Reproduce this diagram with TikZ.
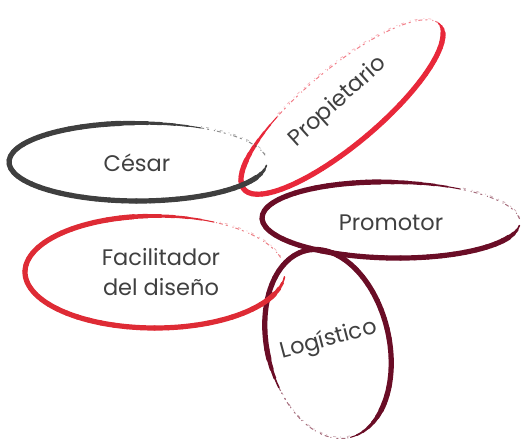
\documentclass[tikz,border=0pt]{standalone}
\usepackage{fontspec}
\setmainfont{Poppins}
\usetikzlibrary{calc}
\definecolor{cgray}{HTML}{3F3F3F}
\definecolor{cred}{HTML}{E8283A}
\definecolor{cred2}{HTML}{DE2B35}
\definecolor{cmaroon}{HTML}{6A0D26}
\definecolor{ctext}{HTML}{404040}
% #1 centre, #2 rotation, #3 rx, #4 ry, #5 t0, #6 t1, #7 colour, #8 fade t0, #9 fade t1
\newcommand\brushell[9]{%
  \begin{scope}[shift={(#1)},rotate=#2]
    \foreach \i in {0,...,47}{%
      \pgfmathsetmacro\ta{#5+(#6-#5)*\i/48}%
      \pgfmathsetmacro\tb{#5+(#6-#5)*(\i+1)/48}%
      \pgfmathsetmacro\lw{4.8*min(1,min((\i+1)/7,(48-\i)/4))+0.4}%
      \draw[#7, line width=\lw pt, line cap=round]
        (\ta:#3pt and #4pt) arc (\ta:\tb:#3pt and #4pt);
    }
    \draw[#7, opacity=.6, line width=1pt,
          dash pattern=on 4pt off 2pt on 1pt off 5pt on 2pt off 3pt]
      (#8:#3pt and #4pt) arc (#8:#9:#3pt and #4pt);
    \draw[#7, opacity=.35, line width=.7pt,
          dash pattern=on 1pt off 6pt on 3pt off 4pt]
      ($(#8:#3pt and #4pt)+(0,1.5pt)$) arc (#8:#9:#3pt and #4pt);
  \end{scope}}
\tikzset{
  label/.style={text=ctext, font=\fontsize{22.5}{30}\selectfont, align=center, inner sep=0pt}
}
\begin{document}
\begin{tikzpicture}[x=1pt,y=1pt]
\useasboundingbox (0,0) rectangle (522,439);
% Logistico
\brushell{328,95}{13}{61}{96}{-89}{199}{cmaroon}{199}{271}
% Promotor
\brushell{391,219}{-1}{129}{38}{58}{355}{cmaroon}{5}{58}
% Facilitador
\brushell{155,167}{0}{130}{56}{63}{355}{cred2}{15}{63}
% Propietario
\brushell{342,332}{40}{128}{38}{116}{363}{cred}{3}{116}
% Cesar
\brushell{138,277}{0}{129}{39}{61}{355}{cgray}{10}{61}
\node[label] (cesar) at (137,276) {César};
\node[label, rotate=42] (prop) at (338,337) {Propietario};
\node[label] (prom) at (391,216) {Promotor};
\node[label] (facil) at (161,167) {Facilitador\\del diseño};
\node[label, rotate=15] (logi) at (329,99) {Logístico};
\end{tikzpicture}
\end{document}
